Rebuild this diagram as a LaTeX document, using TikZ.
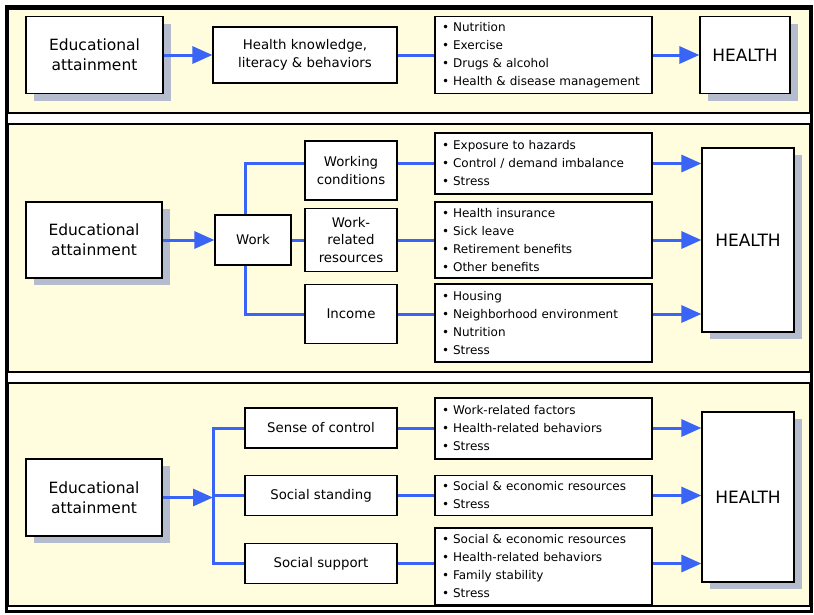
\documentclass[tikz,border=0pt]{standalone}
\usepackage{fontspec}
\setmainfont{DejaVu Sans}
\usepackage{tikz}
\usetikzlibrary{arrows.meta, shadows, positioning}

\definecolor{panelyellow}{RGB}{255,253,222}
\definecolor{linkblue}{RGB}{58,100,245}
\definecolor{shadowgray}{RGB}{180,188,206}

\newcommand{\itm}{\textbullet\ }

\begin{document}
\begin{tikzpicture}[x=1pt,y=-1pt,>={Triangle[length=20pt,width=17pt]},thick]

                \tikzset{panel/.style={fill=panelyellow, draw=black, line width=1.3pt},
                         box/.style={draw=black, line width=1.2pt, fill=white, inner sep=0pt, align=center},
                         edubox/.style={box, minimum width=137pt, minimum height=77pt, font=\fontsize{15.5}{20}\selectfont,
                                        drop shadow={shadow xshift=8pt, shadow yshift=-7pt, fill=shadowgray, opacity=1}},
                         healthbox/.style={box, minimum width=92pt, font=\fontsize{17}{19}\selectfont,
                                        drop shadow={shadow xshift=8pt, shadow yshift=-7pt, fill=shadowgray, opacity=1}},
                         midbox/.style={box, font=\fontsize{13.3}{17.5}\selectfont},
                         listbox/.style={box, minimum width=217pt, text width=203pt, inner xsep=7pt, align=left,
                                        font=\fontsize{12}{18}\selectfont},
                         link/.style={draw=linkblue, line width=3pt},
                         arrow/.style={link, ->}}

                % frame and panels
                \useasboundingbox (0,0) rectangle (814,614);
                \fill[white] (0,0) rectangle (814,614);
                \foreach \t/\b in {9/113, 124/372, 383/606}
                    \draw[panel] (8,\t) rectangle (810,\b);
                \draw[line width=3pt] (6,6.5) rectangle (811,611);

                % panel 1
                \node[edubox] (E1) at (94.5,55) {Educational\\attainment};
                \node[midbox, minimum width=184pt, minimum height=56pt] (K1) at (305,55) {Health knowledge,\\literacy \& behaviors};
                \node[listbox, minimum height=77pt] (L1) at (543.5,55) {\itm Nutrition\\ \itm Exercise\\ \itm Drugs \& alcohol\\ \itm Health \& disease management};
                \node[healthbox, minimum width=90pt, minimum height=77pt] (H1) at (745,55) {HEALTH};

                \draw[arrow] (E1) -- (K1);
                \draw[link]  (K1) -- (L1);
                \draw[arrow] (L1) -- (H1);

                % panel 2
                \node[edubox, minimum width=136pt, minimum height=76pt] (E2) at (94,240) {Educational\\attainment};
                \node[midbox, minimum width=76pt, minimum height=50pt] (W2) at (253,240) {Work};
                \node[midbox, minimum width=92pt, minimum height=59pt] (C2) at (351,170.5) {Working\\conditions};
                \node[midbox, minimum width=92pt, minimum height=63pt] (R2) at (351,240) {Work-\\related\\resources};
                \node[midbox, minimum width=92pt, minimum height=59pt] (I2) at (351,314) {Income};
                \node[listbox, minimum height=61pt] (LC2) at (543.5,163.5) {\itm Exposure to hazards\\ \itm Control / demand imbalance\\ \itm Stress};
                \node[listbox, minimum height=76pt] (LR2) at (543.5,240) {\itm Health insurance\\ \itm Sick leave\\ \itm Retirement benefits\\ \itm Other benefits};
                \node[listbox, minimum height=78pt] (LI2) at (543.5,323) {\itm Housing\\ \itm Neighborhood environment\\ \itm Nutrition\\ \itm Stress};
                \node[healthbox, minimum height=184pt] (H2) at (748,240) {HEALTH};
                \coordinate (T2) at (245,163.5);
                \coordinate (B2) at (245,314);

                \draw[arrow] (E2) -- (W2);
                \draw[link]  (W2.north -| T2) |- (C2.west |- T2);
                \draw[link]  (C2.east |- LC2) -- (LC2);
                \draw[arrow] (LC2) -- (H2.west |- LC2);
                \draw[link]  (W2) -- (R2);
                \draw[link]  (R2) -- (LR2);
                \draw[arrow] (LR2) -- (H2);
                \draw[link]  (W2.south -| B2) |- (I2);
                \draw[link]  (I2) -- (I2 -| LI2.west);
                \draw[arrow] (I2 -| LI2.east) -- (I2 -| H2.west);

                % panel 3
                \node[edubox, minimum width=136pt] (E3) at (94,497.5) {Educational\\attainment};
                \coordinate (J3) at (213,497.5);
                \node[midbox, minimum width=152pt, minimum height=40pt] (S3) at (321,428) {Sense of control};
                \node[midbox, minimum width=152pt, minimum height=40pt] (N3) at (321,495.5) {Social standing};
                \node[midbox, minimum width=152pt, minimum height=40pt] (P3) at (321,563.5) {Social support};
                \node[listbox, minimum height=61pt] (LS3) at (543.5,428.5) {\itm Work-related factors\\ \itm Health-related behaviors\\ \itm Stress};
                \node[listbox, minimum height=40pt] (LN3) at (543.5,495.5) {\itm Social \& economic resources\\ \itm Stress};
                \node[listbox, minimum height=77pt] (LP3) at (543.5,566.5) {\itm Social \& economic resources\\ \itm Health-related behaviors\\ \itm Family stability\\ \itm Stress};
                \node[healthbox, minimum height=170pt] (H3) at (748,497) {HEALTH};

                \draw[arrow] (E3) -- (J3);
                \draw[link]  (S3) -| (J3 |- S3) |- (P3);
                \foreach \m/\l in {S3/LS3, N3/LN3, P3/LP3} {
                    \draw[link]  (\m) -- (\m -| \l.west);
                    \draw[arrow] (\m -| \l.east) -- (\m -| H3.west);
                }
                \draw[link]  (J3 |- N3) -- (N3);
            \end{tikzpicture}
\end{document}
